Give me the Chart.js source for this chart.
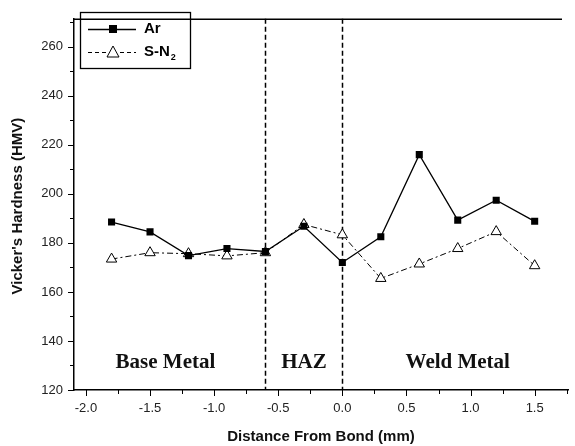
<!DOCTYPE html>
<html>
<head>
<meta charset="utf-8">
<script src="https://cdn.jsdelivr.net/npm/chart.js@4"></script>
<style>
  html, body { margin: 0; padding: 0; background: #fff; }
  #wrap { width: 575px; height: 446px; }
</style>
</head>
<body>
<div id="wrap"><canvas id="chart-hardness" width="575" height="446"></canvas></div>
<script>
const distance = [-1.8, -1.5, -1.2, -0.9, -0.6, -0.3, 0.0, 0.3, 0.6, 0.9, 1.2, 1.5];
const arHardness = [188.5, 184.5, 174.8, 177.7, 176.5, 186.8, 172, 182.5, 216, 189.3, 197.4, 188.8];
const sn2Hardness = [173.4, 176, 175.6, 174.7, 176, 187.5, 183.3, 165.5, 171.4, 177.7, 184.6, 170.7];

const xMajor = [-2.0, -1.5, -1.0, -0.5, 0.0, 0.5, 1.0, 1.5];
const xMinor = [-1.75, -1.25, -0.75, -0.25, 0.25, 0.75, 1.25, 1.75];
const yMajor = [120, 140, 160, 180, 200, 220, 240, 260];
const yMinor = [130, 150, 170, 190, 210, 230, 250, 270];

const boundaries = [-0.6, 0.0];
const regionLabels = ['Base Metal', 'HAZ', 'Weld Metal'];
const regionX = [-1.38, -0.3, 0.9];
const regionY = 129;

const yTitle = "Vicker's Hardness (HMV)";
const yTitleCenter = 195; // hardness value at the middle of the rotated title

const toPoints = (ys) => distance.map((x, i) => ({ x, y: ys[i] }));

// frame top line, minor/major ticks, boundaries, region names, y title
const decorPlugin = {
  id: 'decor',
  beforeDatasetsDraw(chart) {
    const { ctx, chartArea: area, scales: { x, y } } = chart;
    ctx.save();
    ctx.strokeStyle = '#000';
    ctx.lineWidth = 1.5;
    ctx.setLineDash([5, 3]);
    boundaries.forEach((v) => {
      const px = Math.round(x.getPixelForValue(v)) + 0.5;
      ctx.beginPath();
      ctx.moveTo(px, area.top);
      ctx.lineTo(px, area.bottom);
      ctx.stroke();
    });
    ctx.setLineDash([]);

    ctx.fillStyle = '#111';
    ctx.font = 'bold 21px "Liberation Serif", serif';
    ctx.textAlign = 'center';
    ctx.textBaseline = 'alphabetic';
    regionLabels.forEach((label, i) => {
      ctx.fillText(label, x.getPixelForValue(regionX[i]), y.getPixelForValue(regionY));
    });
    ctx.restore();
  },
  afterDraw(chart) {
    const { ctx, chartArea: area, scales: { x, y } } = chart;
    ctx.save();
    ctx.strokeStyle = '#000';
    ctx.lineWidth = 1.5;
    ctx.beginPath();
    ctx.moveTo(area.left, area.top + 0.5);
    ctx.lineTo(area.right - 6, area.top + 0.5);
    ctx.stroke();

    ctx.lineWidth = 1;
    const tick = (px, len, vertical) => {
      ctx.beginPath();
      if (vertical) {
        ctx.moveTo(px, area.bottom);
        ctx.lineTo(px, area.bottom + len);
      } else {
        ctx.moveTo(area.left, px);
        ctx.lineTo(area.left - len, px);
      }
      ctx.stroke();
    };
    xMajor.forEach((v) => tick(Math.round(x.getPixelForValue(v)) + 0.5, 6, true));
    xMinor.forEach((v) => tick(Math.round(x.getPixelForValue(v)) + 0.5, 4, true));
    yMajor.forEach((v) => tick(Math.round(y.getPixelForValue(v)) + 0.5, 6, false));
    yMinor.forEach((v) => tick(Math.round(y.getPixelForValue(v)) + 0.5, 4, false));

    ctx.translate(18, y.getPixelForValue(yTitleCenter));
    ctx.rotate(-Math.PI / 2);
    ctx.fillStyle = '#111';
    ctx.font = 'bold 15px "Liberation Sans", Arial, sans-serif';
    ctx.textAlign = 'center';
    ctx.textBaseline = 'middle';
    ctx.fillText(yTitle, 0, 0);
    ctx.restore();
  },
};

// legend box drawn by hand so the subscript can be placed
const legendPlugin = {
  id: 'boxLegend',
  afterDraw(chart) {
    const { ctx } = chart;
    ctx.save();
    ctx.strokeStyle = '#000';
    ctx.lineWidth = 1.3;
    ctx.strokeRect(80.5, 12.5, 110, 56);

    ctx.beginPath();
    ctx.moveTo(88, 29.5);
    ctx.lineTo(136, 29.5);
    ctx.stroke();
    ctx.fillStyle = '#000';
    ctx.fillRect(109, 25, 8, 8);

    ctx.lineWidth = 1;
    ctx.setLineDash([4, 3]);
    ctx.beginPath();
    ctx.moveTo(88, 52.5);
    ctx.lineTo(106, 52.5);
    ctx.moveTo(120, 52.5);
    ctx.lineTo(136, 52.5);
    ctx.stroke();
    ctx.setLineDash([]);
    ctx.fillStyle = '#fff';
    ctx.beginPath();
    ctx.moveTo(113, 46);
    ctx.lineTo(119, 57);
    ctx.lineTo(107, 57);
    ctx.closePath();
    ctx.fill();
    ctx.stroke();

    ctx.fillStyle = '#000';
    ctx.font = 'bold 15px "Liberation Sans", Arial, sans-serif';
    ctx.textAlign = 'left';
    ctx.textBaseline = 'middle';
    ctx.fillText('Ar', 144, 29);
    ctx.fillText('S-N', 144, 52);
    const w = ctx.measureText('S-N').width;
    ctx.font = 'bold 9px "Liberation Sans", Arial, sans-serif';
    ctx.fillText('2', 145 + w, 58);
    ctx.restore();
  },
};

const tickFont = { family: '"Liberation Sans", Arial, sans-serif', size: 13 };
const titleFont = { family: '"Liberation Sans", Arial, sans-serif', size: 15, weight: 'bold' };

const ctx = document.getElementById('chart-hardness').getContext('2d');
new Chart(ctx, {
  type: 'line',
  data: {
    datasets: [
      {
        label: 'Ar',
        data: toPoints(arHardness),
        borderColor: '#000',
        backgroundColor: '#000',
        borderWidth: 1.3,
        pointStyle: 'rect',
        pointRadius: 5,
        pointBorderWidth: 0,
        tension: 0,
      },
      {
        label: 'S-N₂',
        data: toPoints(sn2Hardness),
        borderColor: '#000',
        backgroundColor: '#fff',
        borderWidth: 1,
        borderDash: [6, 3, 2, 3],
        pointStyle: 'triangle',
        pointRadius: 6,
        pointBorderWidth: 1,
        tension: 0,
      },
    ],
  },
  options: {
    responsive: false,
    animation: false,
    layout: { padding: { top: 7, right: 2, left: 0, bottom: 0 } },
    plugins: { legend: { display: false }, tooltip: { enabled: false } },
    scales: {
      x: {
        type: 'linear',
        min: -2.093,
        max: 1.76,
        afterBuildTicks: (scale) => { scale.ticks = xMajor.map((value) => ({ value })); },
        afterFit: (scale) => { scale.height = 56; },
        grid: { display: false, drawTicks: false },
        border: { display: true, color: '#000', width: 1.5 },
        ticks: {
          padding: 11,
          color: '#222',
          font: tickFont,
          maxRotation: 0,
          callback: (value) => Number(value).toFixed(1),
        },
        title: { display: true, text: 'Distance From Bond (mm)', color: '#111', font: titleFont, padding: { bottom: 0, top: 0 } },
      },
      y: {
        min: 120,
        max: 271.4,
        afterBuildTicks: (scale) => { scale.ticks = yMajor.map((value) => ({ value })); },
        afterFit: (scale) => { scale.width = 74; },
        grid: { display: false, drawTicks: false },
        border: { display: true, color: '#000', width: 1.5 },
        ticks: { padding: 11, color: '#222', font: tickFont, callback: (value) => String(value) },
      },
    },
  },
  plugins: [decorPlugin, legendPlugin],
});
</script>
</body>
</html>
